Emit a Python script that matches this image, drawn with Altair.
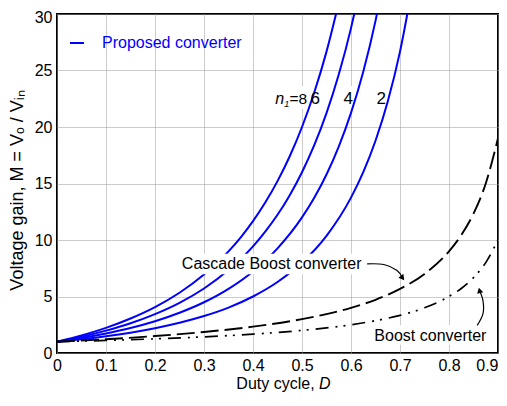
import altair as alt
import pandas as pd

# ---------------- data ----------------
X_TICKS = [0, 0.1, 0.2, 0.3, 0.4, 0.5, 0.6, 0.7, 0.8, 0.9]
Y_TICKS = [0, 5, 10, 15, 20, 25, 30]

# Proposed converter, n1 = 2, 4, 6, 8
D_N2 = [0, .05, .1, .15, .2, .25, .3, .35, .4, .45, .5, .55, .6, .625, .65, .675, .7, .725]
M_N2 = [1, 1.22, 1.48, 1.80, 2.19, 2.67, 3.27, 4.02, 5.0, 6.28, 8.0, 10.37, 13.75, 16.0, 18.78, 22.25, 26.67, 32.4]
D_N4 = [0, .05, .1, .15, .2, .25, .3, .35, .4, .45, .5, .525, .55, .575, .6, .625, .65, .675]
M_N4 = [1, 1.33, 1.73, 2.21, 2.81, 3.56, 4.49, 5.68, 7.22, 9.26, 12.0, 13.74, 15.80, 18.27, 21.25, 24.89, 29.39, 35.03]
D_N6 = [0, .05, .1, .15, .2, .25, .3, .35, .4, .425, .45, .475, .5, .525, .55, .575, .6, .625]
M_N6 = [1, 1.44, 1.98, 2.63, 3.44, 4.44, 5.71, 7.34, 9.44, 10.74, 12.23, 13.97, 16.0, 18.39, 21.23, 24.64, 28.75, 33.78]
D_N8 = [0, .05, .1, .15, .2, .25, .3, .35, .375, .4, .425, .45, .475, .5, .525, .55, .575]
M_N8 = [1, 1.55, 2.22, 3.05, 4.06, 5.33, 6.94, 8.99, 10.24, 11.67, 13.31, 15.21, 17.41, 20.0, 23.05, 26.67, 31.0]

# Cascade boost converter
D_CASC = [0, .1, .2, .3, .4, .5, .55, .6, .65, .7, .75, .8, .825, .85, .875, .9]
M_CASC = [1, 1.22, 1.5, 1.86, 2.33, 3.0, 3.44, 4.0, 4.71, 5.67, 7.0, 9.0, 10.43, 12.33, 15.0, 19.0]

# Boost converter
D_BOOST = [0, .1, .2, .3, .4, .5, .6, .65, .7, .75, .8, .825, .85, .875, .9]
M_BOOST = [1, 1.11, 1.25, 1.43, 1.67, 2.0, 2.5, 2.86, 3.33, 4.0, 5.0, 5.71, 6.67, 8.0, 10.0]

SERIES_NAME = "Proposed converter"

# annotation texts (anchor positions in data units)
LBL_CASC = "Cascade Boost converter"
LBL_BOOST = "Boost converter"
ARROW_CASC_D = [0.633, 0.667, 0.694, 0.7052]
ARROW_CASC_M = [7.89, 7.83, 7.31, 6.64]
ARROW_BOOST_D = [0.8576, 0.8694, 0.8694, 0.8623]
ARROW_BOOST_M = [2.45, 3.49, 4.62, 5.54]

BLUE = "#0000ff"
FONT = "Liberation Sans"
PLOT_W = 441
PLOT_H = 339

# ---------------- tables ----------------
rows = []
for n, ds, ms in [(2, D_N2, M_N2), (4, D_N4, M_N4), (6, D_N6, M_N6), (8, D_N8, M_N8)]:
    for d, m in zip(ds, ms):
        rows.append({"n": n, "D": d, "M": m, "series": SERIES_NAME})
blue_df = pd.DataFrame(rows)
casc_df = pd.DataFrame({"D": D_CASC, "M": M_CASC})
boost_df = pd.DataFrame({"D": D_BOOST, "M": M_BOOST})

arrow_casc = pd.DataFrame({"D": ARROW_CASC_D, "M": ARROW_CASC_M, "o": range(4)})
arrow_boost = pd.DataFrame({"D": ARROW_BOOST_D, "M": ARROW_BOOST_M, "o": range(4)})

x_scale = alt.Scale(domain=[0, 0.9], nice=False, zero=False)
y_scale = alt.Scale(domain=[0, 30], nice=False)


def X(field="D"):
    return alt.X(f"{field}:Q", scale=x_scale,
                 axis=alt.Axis(values=X_TICKS, format="~g", title=None, labelPadding=4,
                               labelFlush=False,
                               labelAlign={"condition": {"test": "datum.value >= 0.89", "value": "right"},
                                           "value": "center"}))


def Y(field="M"):
    return alt.Y(f"{field}:Q", scale=y_scale,
                 axis=alt.Axis(values=Y_TICKS, title="Voltage gain, M = Vₒ / Vᵢₙ",
                               titleFontSize=18, titleFontWeight="normal",
                               titleAngle=-90, titleX=-39.5, titleY=176,
                               titleBaseline="middle", titleAlign="center", labelPadding=5,
                               labelFlush=False,
                               labelOffset={"condition": {"test": "datum.value >= 29", "value": 3},
                                            "value": 0}))


# white boxes behind labels
bg_low = pd.DataFrame({"D": [0.441, 0.6416], "D2": [0.672, 0.8848],
                       "M": [21.6, 0.72], "M2": [23.6, 2.45]})
bg_casc = pd.DataFrame({"D": [0.247], "D2": [0.627], "M": [6.96], "M2": [8.78]})

rect_low = alt.Chart(bg_low).mark_rect(color="white").encode(
    x=X(), x2="D2:Q", y=Y(), y2="M2:Q")
rect_casc = alt.Chart(bg_casc).mark_rect(color="white").encode(
    x=X(), x2="D2:Q", y=Y(), y2="M2:Q")

blue_lines = alt.Chart(blue_df).mark_line(strokeWidth=2, interpolate="monotone", clip=True).encode(
    x=X(), y=Y(), detail="n:N",
    color=alt.Color("series:N", scale=alt.Scale(domain=[SERIES_NAME], range=[BLUE]),
                    legend=alt.Legend(orient="none", legendX=12, legendY=21, title=None,
                                      symbolType="stroke", symbolSize=196, symbolStrokeWidth=2,
                                      labelFontSize=16, labelColor=BLUE, labelFont=FONT,
                                      labelOffset=17, padding=0)))

casc_line = alt.Chart(casc_df).mark_line(color="black", strokeWidth=1.9, strokeDash=[18, 6],
                                         interpolate="monotone", clip=True).encode(x=X(), y=Y())
boost_line = alt.Chart(boost_df).mark_line(color="black", strokeWidth=1.7, strokeDash=[13, 7, 2, 6, 2, 7],
                                           interpolate="monotone", clip=True).encode(x=X(), y=Y())

# text annotations
txt_df = pd.DataFrame({
    "D": [0.2548, 0.6477],
    "M": [7.40, 1.04],
    "t": [LBL_CASC, LBL_BOOST],
})
texts = alt.Chart(txt_df).mark_text(align="left", baseline="alphabetic", fontSize=16,
                                    font=FONT, color="black").encode(x=X(), y=Y(), text="t:N")

n_italic = alt.Chart(pd.DataFrame({"D": [0.4454], "M": [22.0], "t": ["n"]})).mark_text(
    align="left", baseline="alphabetic", fontSize=16, fontStyle="italic", font=FONT, color="black"
).encode(x=X(), y=Y(), text="t:N")
n_sub = alt.Chart(pd.DataFrame({"D": [0.4638], "M": [21.75], "t": ["1"]})).mark_text(
    align="left", baseline="alphabetic", fontSize=9, fontStyle="italic", font=FONT, color="black"
).encode(x=X(), y=Y(), text="t:N")
n_eq = alt.Chart(pd.DataFrame({"D": [0.4745], "M": [22.0], "t": ["=8"]})).mark_text(
    align="left", baseline="alphabetic", fontSize=15.5, font=FONT, color="black"
).encode(x=X(), y=Y(), text="t:N")
n_digits = alt.Chart(pd.DataFrame({"D": [0.5271, 0.5946, 0.6616], "M": [22.0, 22.0, 22.0],
                                   "t": ["6", "4", "2"]})).mark_text(
    align="center", baseline="alphabetic", fontSize=17, font=FONT, color="black"
).encode(x=X(), y=Y(), text="t:N")

# arrows
arr1 = alt.Chart(arrow_casc).mark_line(color="black", strokeWidth=1.2, interpolate="cardinal").encode(
    x=X(), y=Y(), order="o:Q")
arr2 = alt.Chart(arrow_boost).mark_line(color="black", strokeWidth=1.2, interpolate="cardinal").encode(
    x=X(), y=Y(), order="o:Q")
head1 = alt.Chart(arrow_casc.tail(1)).mark_point(shape="triangle-down", filled=True, size=40,
                                                 angle=322, color="black", opacity=1).encode(x=X(), y=Y())
head2 = alt.Chart(arrow_boost.tail(1)).mark_point(shape="triangle-up", filled=True, size=40,
                                                  angle=346, color="black", opacity=1).encode(x=X(), y=Y())

# x-axis title with italic D
xt1 = alt.Chart(pd.DataFrame({"D": [0.5257], "t": ["Duty cycle,"]})).mark_text(
    align="right", baseline="alphabetic", fontSize=16, font=FONT, color="black"
).encode(x=X(), y=alt.value(PLOT_H + 36), text="t:N")
xt2 = alt.Chart(pd.DataFrame({"D": [0.5347], "t": ["D"]})).mark_text(
    align="left", baseline="alphabetic", fontSize=16, font=FONT, fontStyle="italic", color="black"
).encode(x=X(), y=alt.value(PLOT_H + 36), text="t:N")

chart = alt.layer(
    rect_low, blue_lines, casc_line, boost_line, rect_casc,
    texts, n_italic, n_sub, n_eq, n_digits,
    arr1, arr2, head1, head2, xt1, xt2,
).properties(
    width=PLOT_W, height=PLOT_H,
    autosize=alt.AutoSizeParams(type="none"),
    padding={"left": 49, "top": 6, "right": 1, "bottom": 40},
).configure_view(
    stroke="black", strokeWidth=2
).configure_axis(
    labelFont=FONT, labelFontSize=16, labelColor="black",
    titleFont=FONT, titleColor="black",
    grid=True, gridColor="#999999", gridDash=[1, 1], gridWidth=1,
    ticks=False, domain=False,
)

chart.save("out.html", embed_options={"renderer": "svg", "actions": False})
